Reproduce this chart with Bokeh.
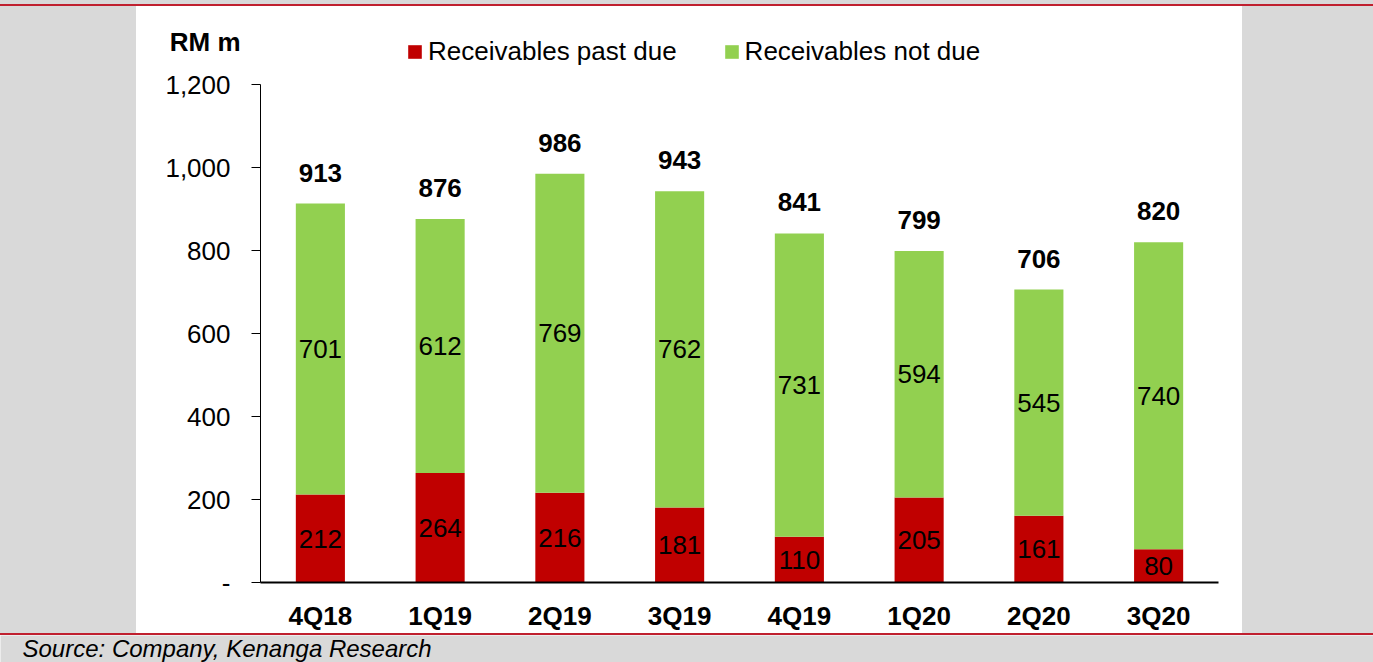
from bokeh.plotting import figure
from bokeh.models import (ColumnDataSource, FactorRange, Range1d, FixedTicker, Legend, LegendItem,
                          NumeralTickFormatter, LabelSet, Label, Spacer)
from bokeh.layouts import column, row
from bokeh.core.properties import value
from bokeh.embed import file_html
from bokeh.resources import INLINE

# ---- data ----
quarters = ["4Q18", "1Q19", "2Q19", "3Q19", "4Q19", "1Q20", "2Q20", "3Q20"]
past_due = [212, 264, 216, 181, 110, 205, 161, 80]
not_due = [701, 612, 769, 762, 731, 594, 545, 740]
totals = [913, 876, 986, 943, 841, 799, 706, 820]
y_ticks = [0, 200, 400, 600, 800, 1000, 1200]
series_names = ["Receivables past due", "Receivables not due"]
colors = ["#c00000", "#92d050"]
unit_label = "RM m"
source_note = "Source: Company, Kenanga Research"

FONT = "Liberation Sans"
GRAY = "#d9d9d9"
RED_LINE = "#c0202f"
FS = "26px"

src = ColumnDataSource(dict(
    q=quarters,
    past=past_due,
    notdue=not_due,
    past_mid=[p / 2 for p in past_due],
    not_mid=[p + n / 2 for p, n in zip(past_due, not_due)],
    top=[p + n for p, n in zip(past_due, not_due)],
    past_txt=[str(v) for v in past_due],
    not_txt=[str(v) for v in not_due],
    tot_txt=[str(v) for v in totals],
))

TOTAL_W = 1373
PW = 1106          # white panel width
HEAD_H = 62        # header (unit label + legend)
MAIN_H = 565       # chart body
BODY_H = HEAD_H + MAIN_H
BORDER_L, BORDER_R = 124, 24

# ---------------- main chart ----------------
p = figure(x_range=FactorRange(*quarters, range_padding=0), y_range=Range1d(0, 1200),
           width=PW, height=MAIN_H, output_backend="svg", toolbar_location=None, title=None,
           min_border_left=BORDER_L, min_border_right=BORDER_R, min_border_top=16,
           min_border_bottom=51)
p.background_fill_color = "white"
p.border_fill_color = "white"
p.outline_line_color = None
p.xgrid.grid_line_color = None
p.ygrid.grid_line_color = None

p.vbar_stack(["past", "notdue"], x="q", width=0.41, color=colors, source=src, line_color=None)

for col, txt in (("past_mid", "past_txt"), ("not_mid", "not_txt")):
    p.add_layout(LabelSet(x="q", y=col, text=txt, source=src, text_align="center",
                          text_baseline="middle", text_font=value(FONT), text_font_size=FS,
                          text_color="black"))
p.add_layout(LabelSet(x="q", y="top", text="tot_txt", source=src, text_align="center",
                      text_baseline="alphabetic", y_offset=22, text_font=value(FONT),
                      text_font_size=FS, text_font_style="bold", text_color="black"))

yax = p.yaxis[0]
yax.ticker = FixedTicker(ticks=y_ticks)
yax.formatter = NumeralTickFormatter(format="0,0")
yax.major_label_overrides = {0: "-"}
yax.major_label_text_font = FONT
yax.major_label_text_font_size = FS
yax.major_label_text_color = "black"
yax.major_tick_out = 9
yax.major_tick_in = 0
yax.minor_tick_line_color = None
yax.axis_line_color = "black"
yax.major_tick_line_color = "black"
yax.major_label_standoff = 21

xax = p.xaxis[0]
xax.major_label_text_font = FONT
xax.major_label_text_font_size = FS
xax.major_label_text_font_style = "bold"
xax.major_label_text_color = "black"
xax.major_tick_line_color = None
xax.minor_tick_line_color = None
xax.axis_line_color = "black"
xax.axis_line_width = 2
xax.major_label_standoff = 12

# ---------------- header: unit label + legend ----------------
head = figure(x_range=FactorRange(*quarters), y_range=Range1d(0, HEAD_H),
              width=PW, height=HEAD_H, output_backend="svg", toolbar_location=None,
              x_axis_type=None, title=None, min_border_left=BORDER_L,
              min_border_right=BORDER_R, min_border_top=0, min_border_bottom=0)
head.background_fill_color = "white"
head.border_fill_color = "white"
head.outline_line_color = None
head.xgrid.visible = False
head.ygrid.visible = False
# unit label shown as the header's single left-axis label
hy = head.yaxis[0]
hy.ticker = FixedTicker(ticks=[27])
hy.major_label_overrides = {27: unit_label}
hy.major_label_text_font = FONT
hy.major_label_text_font_size = FS
hy.major_label_text_font_style = "bold"
hy.major_label_text_color = "black"
hy.major_label_standoff = 14
hy.axis_line_color = None
hy.major_tick_line_color = None
hy.minor_tick_line_color = None

# same series (hidden) so the legend can show their swatches
hrs = head.vbar_stack(["past", "notdue"], x="q", width=0.41, color=colors, source=src,
                      line_color=None)
for r in hrs:
    r.visible = False
lg = Legend(items=[LegendItem(label=n, renderers=[r]) for n, r in zip(series_names, hrs)],
            orientation="horizontal", location=(146, 1), padding=0, margin=0, spacing=46,
            label_standoff=5, glyph_width=17, glyph_height=17, label_text_font=FONT,
            label_text_font_size=FS, label_text_color="black",
            inactive_fill_alpha=0, background_fill_alpha=0, border_line_color=None)
head.add_layout(lg)

# ---------------- footer: source note ----------------
foot = figure(width=TOTAL_W, height=27, output_backend="svg", toolbar_location=None,
              x_axis_type=None, y_axis_type=None, min_border=0, title=None,
              x_range=Range1d(0, 1), y_range=Range1d(0, 1))
foot.background_fill_color = GRAY
foot.border_fill_color = GRAY
foot.outline_line_color = None
foot.xgrid.visible = False
foot.ygrid.visible = False
foot.add_layout(Label(x=22, y=14, x_units="screen", y_units="screen", text=source_note,
                      text_font=FONT, text_font_size="24px", text_font_style="italic",
                      text_baseline="middle", text_color="black"))

gray = {"background-color": GRAY}
red = {"background-color": RED_LINE}
layout = column(
    Spacer(width=TOTAL_W, height=4, styles=gray),
    Spacer(width=TOTAL_W, height=2, styles=red),
    row(Spacer(width=136, height=BODY_H, styles=gray),
        column(head, p, spacing=0),
        Spacer(width=TOTAL_W - 136 - PW, height=BODY_H, styles=gray), spacing=0),
    Spacer(width=TOTAL_W, height=2, styles=red),
    foot,
    spacing=0,
)

open("out.html", "w").write(file_html(layout, INLINE))
